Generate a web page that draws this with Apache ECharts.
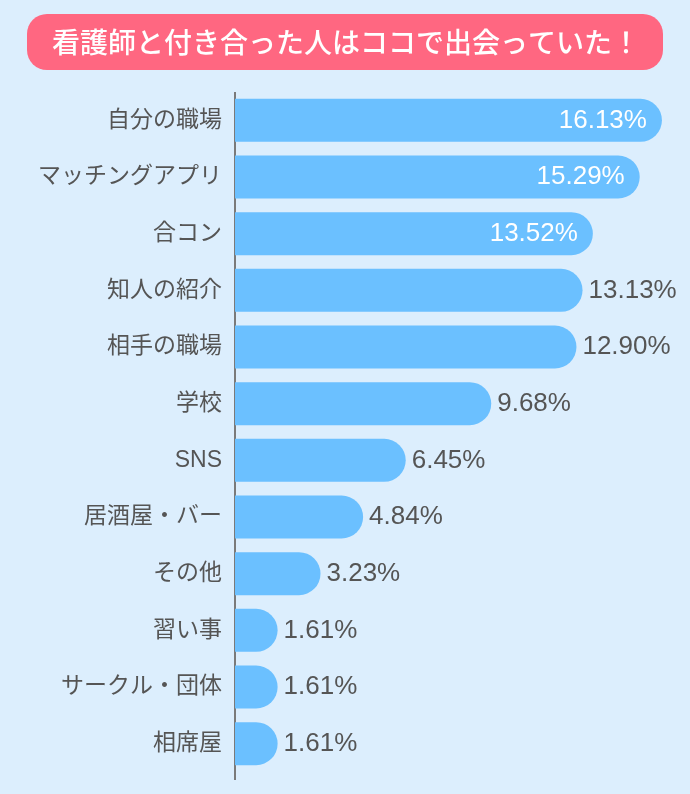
<!DOCTYPE html>
<html><head><meta charset="utf-8">
<script src="https://cdn.jsdelivr.net/npm/echarts@6/dist/echarts.min.js"></script>
<style>html,body{margin:0;padding:0;background:#DCEEFD;}#c{width:690px;height:794px;}</style>
</head><body><div id="c"></div>
<script>
const titleText = '看護師と付き合った人はココで出会っていた！';
const categories = ['自分の職場','マッチングアプリ','合コン','知人の紹介','相手の職場','学校','SNS','居酒屋・バー','その他','習い事','サークル・団体','相席屋'];
const values = [16.13,15.29,13.52,13.13,12.90,9.68,6.45,4.84,3.23,1.61,1.61,1.61];
const insideCount = 3;

const fontLatin = '"Liberation Sans","Noto Sans CJK JP",sans-serif';
const chart = echarts.init(document.getElementById('c'));
const data = values.map((v,i)=>{
  const d = {value:v};
  if(i<insideCount){
    d.label = {position:'insideRight', color:'#ffffff', distance:15};
  }
  return d;
});
chart.setOption({
  backgroundColor:'#DCEEFD',
  animation:false,
  graphic:[
    {type:'rect', shape:{x:27,y:14,width:636,height:56,r:20}, style:{fill:'#FF6781'}},
    {type:'text', x:346, y:42, style:{text:titleText, fill:'#ffffff', font:'500 28px "Noto Sans CJK JP"', textAlign:'center', textVerticalAlign:'middle'}},
    {type:'line', shape:{x1:235,y1:92,x2:235,y2:780}, style:{stroke:'#7a7a7a', lineWidth:2}}
  ],
  grid:{left:235, right:0, top:92, bottom:22},
  xAxis:{type:'value', min:0, max:17.19, show:false},
  yAxis:{type:'category', data:categories, inverse:true,
    axisLine:{show:false}, axisTick:{show:false},
    axisLabel:{color:'#555555', fontSize:23, margin:13, fontFamily:fontLatin, padding:[4,0,0,0]}},
  series:[{type:'bar', data:data, barWidth:43,
    itemStyle:{color:'#6BC0FF', borderRadius:[0,21.5,21.5,0]},
    label:{show:true, position:'right', distance:6, color:'#555555', fontSize:26, fontFamily:fontLatin,
      formatter:p=>p.value.toFixed(2)+'%'}
  }]
});
</script></body></html>
